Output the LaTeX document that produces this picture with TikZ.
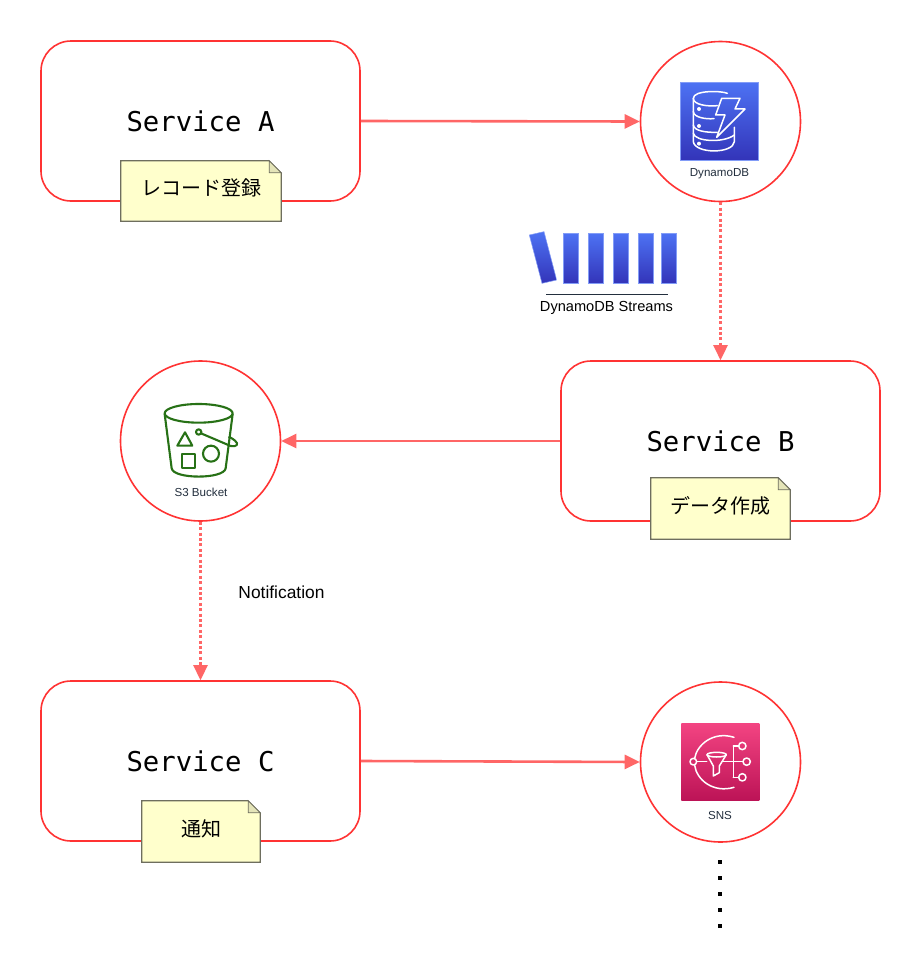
\documentclass[tikz,border=0pt]{standalone}
\usepackage{fontspec}
\setmainfont{Liberation Sans}
\setmonofont{DejaVu Sans Mono}
\newfontfamily\jpfont{Noto Sans CJK JP}
\usetikzlibrary{arrows.meta,calc}
\definecolor{edgered}{HTML}{FF3333}
\definecolor{linkred}{HTML}{FF6666}
\definecolor{notefill}{HTML}{FFFFCC}
\definecolor{notedge}{HTML}{6E6E5E}
\definecolor{notefold}{HTML}{E4E4B8}
\definecolor{awsink}{HTML}{232F3E}
\definecolor{ddbtop}{HTML}{4D72F3}
\definecolor{ddbbot}{HTML}{3334B9}
\definecolor{snstop}{HTML}{F34482}
\definecolor{snsbot}{HTML}{BC1356}
\definecolor{sthree}{HTML}{277116}
\newcommand{\notecorner}[1]{%
  \path[draw=notedge,line width=1.2pt,fill=notefill,line join=miter]
    (#1.north west) -- ($(#1.north east)+(-12,0)$) -- ($(#1.north east)+(0,12)$)
    -- (#1.south east) -- (#1.south west) -- cycle;
  \path[draw=notedge,line width=0.8pt,fill=notefold]
    ($(#1.north east)+(-12,0)$) -- ($(#1.north east)+(-12,12)$) -- ($(#1.north east)+(0,12)$) -- cycle;
}
\tikzset{
  service/.style={draw=edgered,line width=1.6pt,fill=white,rounded corners=30pt,minimum width=319pt,minimum height=160pt,inner sep=0pt,
    font=\ttfamily\fontsize{27.3}{30}\selectfont},
  ring/.style={circle,draw=edgered,line width=1.6pt,fill=white,minimum size=160pt,inner sep=0pt},
  link/.style={draw=linkred,line width=2.6pt,-{Triangle[length=15pt,width=14pt,fill=linkred]}},
  dottedlink/.style={link,dash pattern=on 3pt off 2.4pt},
  notetext/.style={inner sep=0pt,font=\jpfont\fontsize{20}{24}\selectfont,text=black},
  iconlabel/.style={inner sep=0pt,font=\fontsize{11.6}{14}\selectfont,text=awsink},
  plainlabel/.style={inner sep=0pt,text=black},
  iconline/.style={draw=white,line width=1.5pt,line join=round,line cap=round},
  bucket/.style={draw=sthree,line width=2.1pt,line join=round},
  streambar/.style={draw=ddbtop!70!white,line width=0.5pt,top color=ddbtop,bottom color=ddbbot},
}
\begin{document}
\begin{tikzpicture}[x=1pt,y=-1pt]
\useasboundingbox[fill=white] (0,0) rectangle (921,961);
% services and rings
\node[service] (svca) at (200.5,121) {Service A};
\node[service] (svcb) at (720.5,441) {Service B};
\node[service] (svcc) at (200.5,761) {Service C};
\node[ring] (ddb) at (720.5,121.5) {};
\node[ring] (sthreering) at (200.5,441) {};
\node[ring] (sns) at (720.5,762) {};
% connectors
\draw[link] (svca.east) -- (ddb.west);
\draw[link] (svcb.west) -- (sthreering.east);
\draw[link] (svcc.east) -- (sns.west);
\draw[dottedlink] (ddb.south) -- (svcb.north);
\draw[dottedlink] (sthreering.south) -- (svcc.north);
% notes
\node[minimum width=160pt,minimum height=60pt,inner sep=0pt] (notea) at (201,191) {};
\node[minimum width=139pt,minimum height=61pt,inner sep=0pt] (noteb) at (720.5,508.5) {};
\node[minimum width=118pt,minimum height=61pt,inner sep=0pt] (notec) at (201,831.5) {};
\notecorner{notea}\notecorner{noteb}\notecorner{notec}
\node[notetext] (noteatext) at (201.5,188) {レコード登録};
\node[notetext] (notebtext) at (720.5,505.5) {データ作成};
\node[notetext] (notectext) at (201,829) {通知};
% DynamoDB icon
\begin{scope}[shift={(640,40)},x=0.3333pt,y=-0.3333pt]
  \path[draw=ddbtop!70!white,line width=0.5pt,top color=ddbtop,bottom color=ddbbot] (122,127) rectangle (355,360);
  \draw[iconline] (262,160) .. controls (245,152) and (160,150) .. (160,175)
    .. controls (160,195) and (205,200) .. (232,197);
  \draw[iconline] (160,175) -- (160,215) .. controls (162,232) and (195,238) .. (222,236);
  \draw[iconline] (160,215) -- (160,255) .. controls (162,272) and (195,278) .. (232,277);
  \draw[iconline] (160,255) -- (160,305) .. controls (165,342) and (280,342) .. (283,305) -- (283,262);
  \draw[iconline] (160,280) .. controls (165,305) and (250,310) .. (283,285);
  \draw[iconline] (245,175) -- (300,175) -- (285,207) -- (315,207) -- (230,292) -- (255,225) -- (227,225) -- cycle;
  \foreach \yy in {207,258,311} \fill[white] (177,\yy) circle (6);
\end{scope}
\node[iconlabel] (ddblabel) at (719.5,173.5) {DynamoDB};
% DynamoDB Streams icon
\begin{scope}[shift={(520,220)},x=0.3333pt,y=-0.3333pt]
  \path[streambar] (28,45) -- (72,35) -- (110,180) -- (66,190) -- cycle;
  \foreach \xx in {130,205,280,355,424}
    \path[streambar] (\xx,40) rectangle (\xx+46,190);
  \draw[draw=awsink,line width=0.6pt] (78,223) -- (445,223);
\end{scope}
\node[plainlabel,font=\fontsize{14.6}{18}\selectfont,text=black] (streamlabel) at (606.5,308) {DynamoDB Streams};
% S3 icon
\begin{scope}[shift={(120,390)},x=0.3333pt,y=-0.3333pt]
  \draw[bucket] (236,70) ellipse (102 and 28);
  \draw[bucket] (134,72) -- (155,235) .. controls (160,268) and (312,268) .. (317,235) -- (338,72);
  \draw[bucket] (172,167) -- (217,167) -- (195,127) -- cycle;
  \draw[bucket] (185,193) rectangle (225,235);
  \draw[bucket] (273,191) circle (24);
  \draw[bucket] (236,126) circle (8);
  \draw[bucket] (243,130) -- (332,168) .. controls (350,172) and (358,162) .. (345,152) .. controls (340,148) and (335,144) .. (326,140);
\end{scope}
\node[iconlabel] (sthreelabel) at (201,492) {S3 Bucket};
% SNS icon
\begin{scope}[shift={(670,710)},x=0.3333pt,y=-0.3333pt]
  \path[top color=snstop,bottom color=snsbot] (34,40) rectangle (268,272);
  \draw[iconline] (192,82) .. controls (130,62) and (80,105) .. (74,145);
  \draw[iconline] (192,232) .. controls (130,250) and (80,210) .. (74,166);
  \draw[iconline] (70,155) circle (10);
  \draw[iconline] (80,155) -- (110,155);
  \draw[iconline] (140,134) ellipse (29 and 7);
  \draw[iconline] (111,134) -- (130,168) -- (130,198) -- (148,188) -- (148,168) -- (169,134);
  \draw[iconline] (160,155) -- (219,155);
  \draw[iconline] (190,108) -- (190,202);
  \draw[iconline] (190,108) -- (206,108);
  \draw[iconline] (190,202) -- (206,202);
  \draw[iconline] (217,108) circle (11);
  \draw[iconline] (230,155) circle (11);
  \draw[iconline] (217,202) circle (11);
\end{scope}
\node[iconlabel] (snslabel) at (720,815) {SNS};
% text and continuation dots
\node[plainlabel,font=\fontsize{17.4}{21}\selectfont] (notiflabel) at (281.5,592) {Notification};
\foreach \yy in {862,878,894,910,926}
  \fill[black] (717.5,\yy-2) rectangle (721.5,\yy+2);
\end{tikzpicture}
\end{document}
